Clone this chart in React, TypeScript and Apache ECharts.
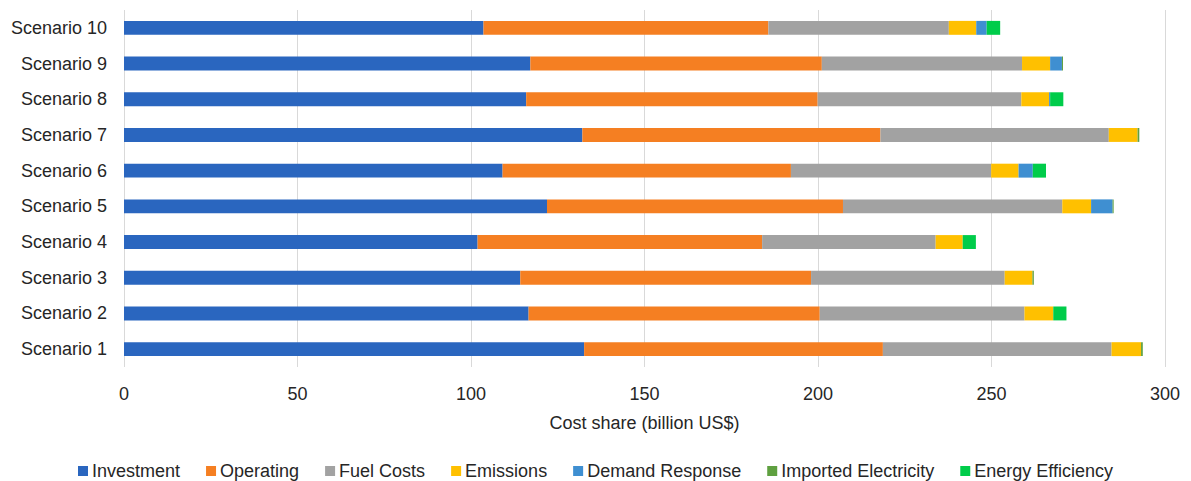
import React, { useEffect, useRef } from "react";
import * as echarts from "echarts";

// Scenarios listed bottom to top
const scenarios = [
  "Scenario 1", "Scenario 2", "Scenario 3", "Scenario 4", "Scenario 5",
  "Scenario 6", "Scenario 7", "Scenario 8", "Scenario 9", "Scenario 10",
];

// Cost components, billion US$
const investment = [132.6, 116.6, 114.2, 101.9, 121.9, 109.1, 132.1, 115.9, 117.1, 103.6];
const operating = [86.1, 83.9, 83.8, 82.0, 85.3, 83.1, 85.9, 84.0, 84.0, 82.1];
const fuelCosts = [65.9, 59.0, 55.8, 50.0, 63.2, 57.7, 65.8, 58.7, 57.7, 52.0];
const emissions = [8.5, 8.3, 8.0, 7.8, 8.3, 7.9, 8.3, 8.0, 8.1, 7.9];
const demandResponse = [0, 0, 0, 0, 6.2, 4.1, 0, 0.3, 3.4, 3.0];
const importedElectricity = [0.5, 0, 0.4, 0, 0.3, 0, 0.5, 0, 0.3, 0];
const energyEfficiency = [0, 3.8, 0, 3.8, 0, 3.8, 0, 3.8, 0, 3.9];

const xTicks = [0, 50, 100, 150, 200, 250, 300];

const seriesDefs = [
  { name: "Investment", data: investment, color: "#2A66BF" },
  { name: "Operating", data: operating, color: "#F57F22" },
  { name: "Fuel Costs", data: fuelCosts, color: "#A2A2A2" },
  { name: "Emissions", data: emissions, color: "#FFC000" },
  { name: "Demand Response", data: demandResponse, color: "#3F8FD1" },
  { name: "Imported Electricity", data: importedElectricity, color: "#5FA040" },
  { name: "Energy Efficiency", data: energyEfficiency, color: "#00CC4A" },
];

const FONT = "'Liberation Sans', Arial, sans-serif";
const TEXT = "#262626";

export default function App() {
  const ref = useRef<HTMLDivElement>(null);

  useEffect(() => {
    if (!ref.current) return;
    const chart = echarts.init(ref.current, null, { renderer: "svg" });
    chart.setOption({
      animation: false,
      textStyle: { fontFamily: FONT },
      grid: { left: 124, right: 26, top: 10, bottom: 114, containLabel: false },
      legend: {
        top: 457,
        left: "center",
        itemWidth: 10,
        itemHeight: 10,
        itemGap: 26,
        icon: "rect",
        textStyle: { fontFamily: FONT, fontSize: 18, color: TEXT, padding: [0, 0, 0, -1] },
        data: seriesDefs.map((s) => s.name),
      },
      xAxis: {
        type: "value",
        min: xTicks[0],
        max: xTicks[xTicks.length - 1],
        interval: 50,
        axisLine: { show: false },
        axisTick: { show: false },
        axisLabel: { fontFamily: FONT, fontSize: 18, color: TEXT, margin: 18 },
        splitLine: { show: true, lineStyle: { color: "#D9D9D9", width: 1 } },
        name: "Cost share (billion US$)",
        nameLocation: "middle",
        nameGap: 47,
        nameTextStyle: { fontFamily: FONT, fontSize: 18, color: TEXT },
      },
      yAxis: {
        type: "category",
        data: scenarios,
        axisLine: { show: false },
        axisTick: { show: false },
        axisLabel: { fontFamily: FONT, fontSize: 18, color: TEXT, margin: 17 },
      },
      series: seriesDefs.map((s) => ({
        name: s.name,
        type: "bar",
        stack: "total",
        barWidth: "39%",
        data: s.data,
        itemStyle: { color: s.color },
      })),
    });
    return () => chart.dispose();
  }, []);

  return (
    <div
      ref={ref}
      style={{ position: "fixed", left: 0, top: 0, width: 1191, height: 481, background: "#fff" }}
    />
  );
}
